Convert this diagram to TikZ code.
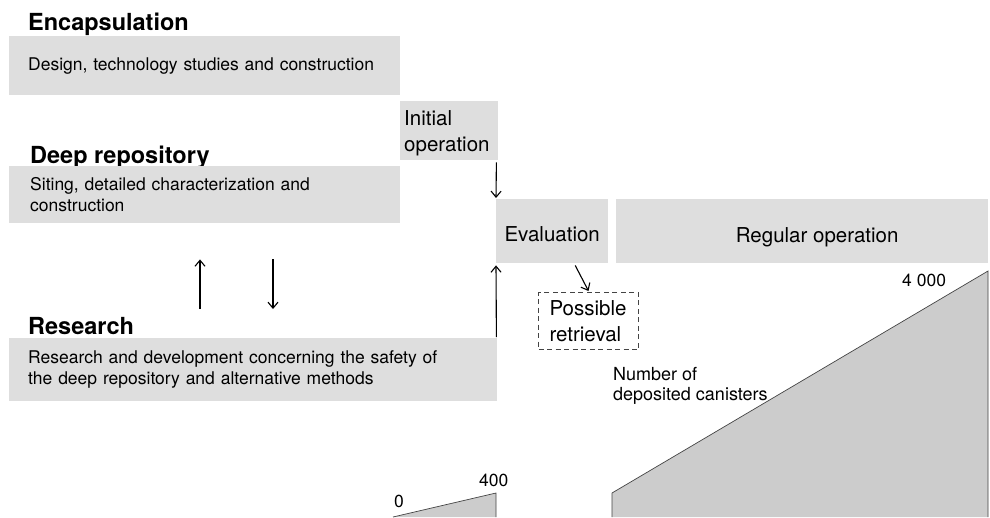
\documentclass[tikz,border=0pt]{standalone}
\usepackage{fontspec}
\setmainfont{TeX Gyre Heros}
\usetikzlibrary{arrows.meta}
\definecolor{boxgray}{HTML}{DEDEDE}
\definecolor{areagray}{HTML}{CCCCCC}
\definecolor{edgegray}{HTML}{444444}
\newcommand{\titlesize}{\fontsize{23.5}{28}\selectfont\bfseries}
\newcommand{\midsize}{\fontsize{20.5}{26}\selectfont}
\newcommand{\smallsize}{\fontsize{17.5}{21}\selectfont}
\begin{document}
\begin{tikzpicture}[x=1pt,y=-1pt,
  box/.style={fill=boxgray, inner ysep=0pt, anchor=north west, align=left},
  title/.style={anchor=base west, inner sep=0pt, font=\titlesize},
  arr/.style={line width=1.1pt, -{Straight Barb[length=6pt,width=10pt,line width=1.1pt]}},
  area/.style={fill=areagray, draw=edgegray, line width=0.7pt, line join=miter},
  num/.style={anchor=base west, inner sep=0pt, font=\smallsize}]
\useasboundingbox (0,0) rectangle (990,517);

% phase titles
\node[title] (enctitle) at (28,30) {Encapsulation};
\node[title] (deeptitle) at (30,163) {Deep repository};
\node[title] (restitle) at (28,334) {Research};

% activity boxes
\node[box, font=\smallsize, inner xsep=19pt, text width=353pt, minimum height=59pt]
  (encbox) at (9,36) {Design, technology studies and construction};
\node[box, font=\smallsize, inner xsep=21pt, text width=349pt, minimum height=57pt]
  (deepbox) at (9,166) {Siting, detailed characterization and\\construction};
\node[box, font=\smallsize, inner xsep=19pt, text width=450pt, minimum height=63pt]
  (resbox) at (9,338) {Research and development concerning the safety of\\the deep repository and alternative methods};
\node[box, font=\midsize, inner xsep=4pt, text width=90pt, minimum height=59pt,
  text height=20pt]
  (initbox) at (400,101) {Initial\\operation};
\node[box, font=\midsize, inner xsep=0pt, minimum width=112pt, minimum height=64pt, align=center,
  text height=20pt, text depth=0pt]
  (evalbox) at (496,199) {Evaluation};
\node[box, inner xsep=0pt, minimum width=372pt, minimum height=64pt,
  label={[font=\midsize, xshift=15pt, yshift=-6pt]center:Regular operation}]
  (regbox) at (616,199) {};
\node[box, fill=none, draw=edgegray, dashed, dash pattern=on 5pt off 3.5pt, line width=1pt,
  font=\midsize, inner xsep=11pt, text width=78pt, minimum height=57pt]
  (retbox) at (538,292) {Possible\\retrieval};

% flows between activities
\draw[arr] ([shift={(-2,2)}]initbox.south east) -- ([shift={(0,-1)}]evalbox.north west);
\draw[arr] ([shift={(-1,-1)}]resbox.north east) -- ([shift={(0,2)}]evalbox.south west);
\draw[arr] ([shift={(23,2)}]evalbox.south) -- ([shift={(0,-1)}]retbox.north);
\draw[arr] ([shift={(191,-29)}]resbox.north west) -- ([shift={(191,36)}]deepbox.south west);
\draw[arr] ([shift={(264,36)}]deepbox.south west) -- ([shift={(264,-29)}]resbox.north west);

% number of deposited canisters
\draw[area] (393,517) -- (496,493) -- (496,517);
\draw[area] (612,517) -- (612,493) -- (988,271) -- (988,517);
\node[num] (n0) at (394,507) {0};
\node[num] (n400) at (479,486) {400};
\node[num] (n4000) at (902,286) {4 000};
\node[anchor=north west, inner sep=0pt, font=\fontsize{18}{20}\selectfont, align=left]
  (canlabel) at (613,367) {Number of\\deposited canisters};
\end{tikzpicture}
\end{document}
